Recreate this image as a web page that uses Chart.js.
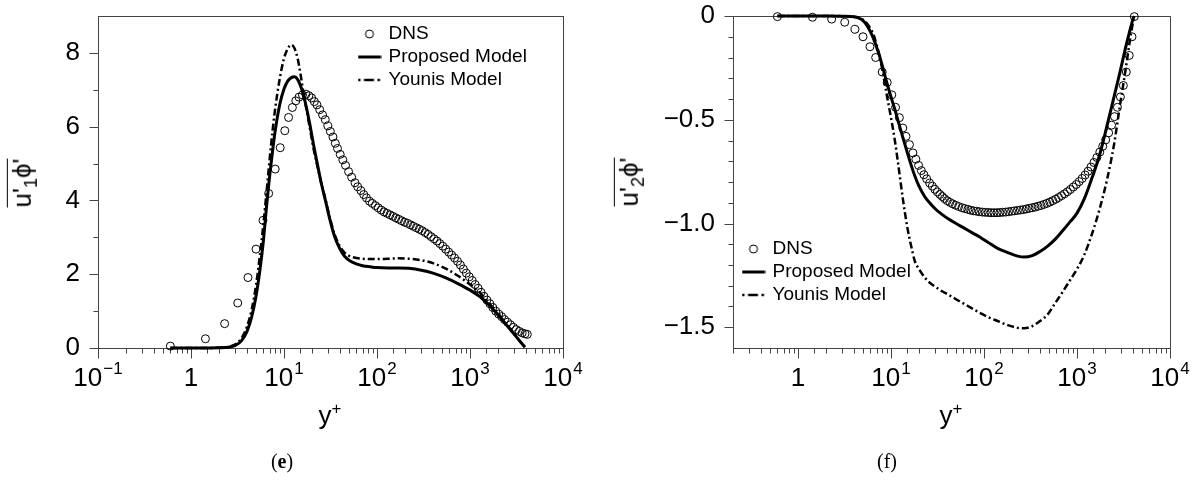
<!DOCTYPE html>
<html>
<head>
<meta charset="UTF-8">
<script src="https://cdn.jsdelivr.net/npm/chart.js"></script>
<style>
    body { margin: 0; background: #fff; width: 1193px; height: 489px; position: relative; overflow: hidden;
           font-family: "Liberation Sans", Arial, sans-serif; }
    canvas { position: absolute; top: 0; }
    #chartE { left: 0; }
    #chartF { left: 600px; }
    .ytitle { position: absolute; font-size: 26px; white-space: nowrap; transform: translate(-50%, -50%) rotate(-90deg); }
    .ytitle span { display: inline-block; border-top: 1.5px solid #000; padding-top: 1px; line-height: 1.05; }
    .ytitle sub { font-size: 0.7em; }
    .xtitle { position: absolute; font-size: 26px; white-space: nowrap; transform: translate(-50%, -50%); }
    .xtitle sup { font-size: 0.65em; }
    .caption { position: absolute; font-family: "Liberation Serif", serif; font-size: 20px; transform: translateX(-50%); }
</style>
</head>
<body>
    <canvas id="chartE" width="600" height="440"></canvas>
    <canvas id="chartF" width="593" height="440"></canvas>
    <div class="ytitle" style="left:24px; top:183px;"><span>u'<sub>1</sub>ϕ'</span></div>
    <div class="ytitle" style="left:631px; top:182px;"><span>u'<sub>2</sub>ϕ'</span></div>
    <div class="xtitle" style="left:330px; top:415px;">y<sup>+</sup></div>
    <div class="xtitle" style="left:951px; top:415px;">y<sup>+</sup></div>
    <div class="caption" style="left:282px; top:450px;">(<b>e</b>)</div>
    <div class="caption" style="left:887px; top:450px;">(f)</div>

<script>
// DNS sample positions (same grid in both panels)
const dnsYplus = [0.6, 1.43, 2.3, 3.18, 4.1, 5.0, 5.94, 6.84, 8.04, 9.1, 10.2, 11.2, 12.3, 13.4, 14.5, 15.8,
    17.2, 18.5, 19.8, 21.2, 22.6, 24.2, 26.0, 27.8, 29.6, 31.5, 33.6, 35.6, 37.6, 40.2, 42.9, 45.9, 49.5, 53.4,
    58, 62, 67, 72, 77, 83, 89, 96, 103, 111, 119, 128, 138, 148, 159, 171, 184, 198, 213, 229, 246, 265, 285,
    306, 329, 354, 381, 410, 441, 474, 510, 548, 590, 634, 682, 734, 789, 849, 913, 982, 1056, 1136, 1222, 1314,
    1413, 1520, 1635, 1758, 1891, 2034, 2188, 2353, 2531, 2722, 2928, 3149, 3387, 3643, 3900, 4130];
const dnsU1Phi = [0.05, 0.25, 0.66, 1.22, 1.91, 2.68, 3.46, 4.19, 4.85, 5.43, 5.89, 6.25, 6.52, 6.70, 6.80, 6.86,
    6.88, 6.84, 6.78, 6.68, 6.59, 6.46, 6.32, 6.19, 6.02, 5.87, 5.72, 5.55, 5.41, 5.25, 5.10, 4.95, 4.78, 4.63,
    4.48, 4.37, 4.27, 4.16, 4.07, 3.98, 3.92, 3.86, 3.80, 3.74, 3.69, 3.65, 3.61, 3.57, 3.53, 3.49, 3.45, 3.41,
    3.38, 3.34, 3.30, 3.26, 3.22, 3.18, 3.13, 3.08, 3.02, 2.96, 2.90, 2.83, 2.76, 2.68, 2.60, 2.52, 2.44, 2.35,
    2.25, 2.14, 2.03, 1.93, 1.83, 1.72, 1.62, 1.51, 1.40, 1.30, 1.20, 1.10, 1.00, 0.92, 0.85, 0.77, 0.70, 0.63,
    0.56, 0.50, 0.45, 0.41, 0.385, 0.37];
const dnsU2Phi = [-0.003, -0.006, -0.015, -0.03, -0.064, -0.10, -0.148, -0.20, -0.27, -0.32, -0.38, -0.44, -0.49,
    -0.54, -0.58, -0.62, -0.66, -0.69, -0.72, -0.745, -0.765, -0.785, -0.805, -0.82, -0.835, -0.848, -0.86, -0.87,
    -0.88, -0.89, -0.898, -0.905, -0.912, -0.918, -0.924, -0.928, -0.932, -0.936, -0.939, -0.941, -0.943, -0.945,
    -0.946, -0.947, -0.948, -0.948, -0.948, -0.947, -0.946, -0.945, -0.943, -0.941, -0.939, -0.937, -0.935, -0.933,
    -0.93, -0.927, -0.924, -0.921, -0.917, -0.913, -0.908, -0.903, -0.897, -0.89, -0.883, -0.875, -0.866, -0.857,
    -0.847, -0.836, -0.824, -0.812, -0.798, -0.783, -0.766, -0.748, -0.728, -0.706, -0.682, -0.656, -0.628, -0.597,
    -0.563, -0.526, -0.485, -0.44, -0.39, -0.335, -0.27, -0.19, -0.1, -0.003];

// panel (e): model curves
const eYplus = [0.6, 1, 1.5, 2, 2.5, 3, 3.5, 4, 4.5, 5, 5.5, 6, 6.5, 7, 7.5, 8, 9, 10, 11, 12, 13, 14, 15, 16,
    17.5, 19, 21, 23, 25, 28, 31, 35, 40, 45, 52, 60, 70, 85, 100, 130, 170, 220, 300, 400, 550, 750, 1000, 1300,
    1600, 2000, 2400, 2900, 3400, 3900];
const eProposed = [0, 0, 0.002, 0.006, 0.02, 0.07, 0.2, 0.45, 0.85, 1.4, 2.1, 2.9, 3.85, 4.65, 5.3, 5.85, 6.6,
    7.02, 7.24, 7.33, 7.35, 7.28, 7.12, 6.9, 6.5, 6.05, 5.45, 4.95, 4.5, 3.98, 3.5, 3.02, 2.68, 2.48, 2.35, 2.28,
    2.23, 2.2, 2.18, 2.17, 2.17, 2.16, 2.11, 2.03, 1.9, 1.74, 1.57, 1.38, 1.17, 0.9, 0.66, 0.41, 0.2, 0.02];
const eYounis = [0, 0, 0.002, 0.008, 0.03, 0.1, 0.27, 0.58, 1.05, 1.7, 2.5, 3.35, 4.25, 5.1, 5.85, 6.45, 7.3,
    7.85, 8.12, 8.22, 8.12, 7.85, 7.45, 7.0, 6.45, 5.95, 5.35, 4.9, 4.5, 4.02, 3.55, 3.08, 2.75, 2.58, 2.48, 2.44,
    2.42, 2.41, 2.41, 2.42, 2.43, 2.42, 2.38, 2.3, 2.15, 1.95, 1.72, 1.48, 1.22, 0.94, 0.68, 0.42, 0.2, 0.02];

// panel (f): model curves
const fYplus = [0.6, 1, 2, 3, 4, 4.5, 5, 5.5, 6, 6.5, 7, 7.5, 8, 9, 10, 11, 12, 13.5, 15, 16.5, 18, 20, 23, 26,
    30, 35, 42, 50, 60, 75, 90, 110, 140, 180, 230, 270, 330, 400, 480, 570, 700, 850, 1000, 1200, 1450, 1750,
    2100, 2500, 2900, 3300, 3700, 4000, 4130];
const fProposed = [0, 0, 0, -0.001, -0.004, -0.01, -0.022, -0.045, -0.075, -0.11, -0.15, -0.19, -0.235, -0.32,
    -0.39, -0.45, -0.51, -0.59, -0.66, -0.72, -0.77, -0.82, -0.87, -0.9, -0.93, -0.955, -0.98, -1.0, -1.02, -1.045,
    -1.065, -1.09, -1.12, -1.14, -1.157, -1.162, -1.155, -1.135, -1.11, -1.08, -1.035, -0.99, -0.95, -0.88, -0.78,
    -0.67, -0.53, -0.39, -0.27, -0.16, -0.07, -0.015, 0];
const fYounis = [0, 0, 0, -0.001, -0.004, -0.008, -0.018, -0.035, -0.06, -0.09, -0.14, -0.19, -0.25, -0.38, -0.49,
    -0.6, -0.72, -0.89, -1.02, -1.11, -1.18, -1.22, -1.26, -1.285, -1.305, -1.325, -1.345, -1.365, -1.385, -1.41,
    -1.43, -1.45, -1.47, -1.49, -1.503, -1.505, -1.495, -1.47, -1.44, -1.39, -1.33, -1.27, -1.22, -1.15, -1.05,
    -0.93, -0.79, -0.62, -0.43, -0.27, -0.12, -0.03, 0];

// tick labels (x labels are base + superscript exponent)
const xTickValues = [0.1, 1, 10, 100, 1000, 10000];
const xTickBase = ['10', '1', '10', '10', '10', '10'];
const xTickExp = ['−1', '', '1', '2', '3', '4'];
const eTickValues = [0, 2, 4, 6, 8];
const eTickText = ['0', '2', '4', '6', '8'];
const fTickValues = [0, -0.5, -1.0, -1.5];
const fTickText = ['0', '−0.5', '−1.0', '−1.5'];

const FONT = '"Liberation Sans", Arial, sans-serif';
Chart.defaults.font.family = FONT;
Chart.defaults.color = '#000';

function findTick(vals, v) {
    return vals.findIndex(t => Math.abs(t - v) < 1e-6 * Math.max(1, Math.abs(t)));
}
function lookup(vals, texts, v) {
    const i = findTick(vals, v);
    return i >= 0 ? texts[i] : '';
}
function pts(xs, ys) { return xs.map((x, i) => ({ x: x, y: ys[i] })); }

function icon(draw) {
    const c = document.createElement('canvas');
    c.width = 24; c.height = 10;
    const g = c.getContext('2d');
    g.strokeStyle = '#000';
    draw(g);
    return c;
}
const circleIcon = icon(g => { g.lineWidth = 1; g.beginPath(); g.arc(12, 5, 4, 0, Math.PI * 2); g.stroke(); });
const solidIcon = icon(g => { g.lineWidth = 3; g.beginPath(); g.moveTo(0.5, 5); g.lineTo(23.5, 5); g.stroke(); });
const dashIcon = icon(g => {
    g.lineWidth = 2.5; g.setLineDash([2.5, 3.5, 10, 3.5, 2.5, 10]);
    g.beginPath(); g.moveTo(0.5, 5); g.lineTo(23.5, 5); g.stroke();
});
const legendIcons = [circleIcon, solidIcon, dashIcon];

// put the legend box at a fixed spot inside the plot
const legendPos = {
    id: 'legendPos',
    beforeDraw(chart, args, o) {
        const lg = chart.legend;
        if (!lg) return;
        lg.left = o.left; lg.top = o.top;
        lg.right = o.left + lg.width; lg.bottom = o.top + 200;
    }
};

// frame round the plot, outward tick marks and the 10^n labels
const frameTicks = {
    id: 'frameTicks',
    beforeDatasetsDraw(chart) {
        const { ctx, chartArea: a, scales: { x, y } } = chart;
        ctx.save();
        ctx.strokeStyle = '#444';
        ctx.lineWidth = 1;
        const L = Math.round(a.left) + 0.5, R = Math.round(a.right) + 0.5;
        const T = Math.round(a.top) + 0.5, B = Math.round(a.bottom) + 0.5;
        ctx.strokeRect(L, T, R - L, B - T);
        ctx.beginPath();
        x.ticks.forEach(t => {
            const px = Math.round(x.getPixelForValue(t.value)) + 0.5;
            const len = findTick(xTickValues, t.value) >= 0 ? 10 : 5;
            ctx.moveTo(px, B); ctx.lineTo(px, B + len);
        });
        y.ticks.forEach(t => {
            if (!t.label && (t.value === y.min || t.value === y.max)) return;
            const py = Math.round(y.getPixelForValue(t.value)) + 0.5;
            const len = t.label ? 9 : 5;
            ctx.moveTo(L - len, py); ctx.lineTo(L, py);
        });
        ctx.stroke();
        ctx.restore();
    },
    afterDraw(chart) {
        const { ctx, chartArea: a, scales: { x } } = chart;
        const base = a.bottom + 38;
        ctx.save();
        ctx.fillStyle = '#000';
        ctx.textAlign = 'left';
        ctx.textBaseline = 'alphabetic';
        xTickValues.forEach((v, i) => {
            if (v < x.min || v > x.max) return;
            const px = x.getPixelForValue(v);
            ctx.font = '26px ' + FONT;
            const wb = ctx.measureText(xTickBase[i]).width;
            ctx.font = '17px ' + FONT;
            const we = xTickExp[i] ? ctx.measureText(xTickExp[i]).width + 1 : 0;
            const x0 = px - (wb + we) / 2;
            ctx.font = '26px ' + FONT;
            ctx.fillText(xTickBase[i], x0, base);
            if (xTickExp[i]) {
                ctx.font = '17px ' + FONT;
                ctx.fillText(xTickExp[i], x0 + wb + 1, base - 12);
            }
        });
        ctx.restore();
    }
};

function panel(id, cfg) {
    return new Chart(document.getElementById(id), {
        type: 'line',
        data: {
            datasets: [
                { label: 'DNS', data: pts(dnsYplus, cfg.dns), showLine: false, pointStyle: 'circle',
                  pointRadius: 4, pointBorderWidth: 1, pointBorderColor: '#000',
                  pointBackgroundColor: 'rgba(0,0,0,0)', clip: false },
                { label: 'Proposed Model', data: pts(cfg.modelX, cfg.proposed), borderColor: '#000',
                  borderWidth: 3, pointRadius: 0, cubicInterpolationMode: 'monotone', clip: false },
                { label: 'Younis Model', data: pts(cfg.modelX, cfg.younis), borderColor: '#000',
                  borderWidth: 2.5, borderDash: [7, 3, 2, 3], pointRadius: 0,
                  cubicInterpolationMode: 'monotone', clip: false }
            ]
        },
        options: {
            responsive: false,
            animation: false,
            events: [],
            layout: { padding: { top: 16, right: cfg.padRight, left: 0, bottom: 0 } },
            plugins: {
                tooltip: { enabled: false },
                legend: {
                    position: 'chartArea',
                    align: 'start',
                    labels: {
                        usePointStyle: true,
                        font: { size: 19 },
                        padding: 4,
                        color: '#000',
                        generateLabels: chart => chart.data.datasets.map((d, i) => ({
                            text: d.label, pointStyle: legendIcons[i], datasetIndex: i,
                            lineWidth: 0, hidden: false, fontColor: '#000'
                        }))
                    }
                },
                legendPos: cfg.legend
            },
            scales: {
                x: {
                    type: 'logarithmic',
                    min: cfg.xMin,
                    max: 10000,
                    grid: { display: false, drawTicks: false },
                    border: { display: false },
                    ticks: { display: false, autoSkip: false },
                    afterFit: s => { s.height = 92; s.paddingLeft = 0; s.paddingRight = 0; }
                },
                y: {
                    type: 'linear',
                    min: cfg.yMin,
                    max: cfg.yMax,
                    grid: { display: false, drawTicks: false },
                    border: { display: false },
                    ticks: {
                        autoSkip: false, stepSize: cfg.yStep, padding: 18, font: { size: 26 },
                        callback: v => lookup(cfg.yTickValues, cfg.yTickText, v)
                    },
                    afterFit: s => { s.width = cfg.yWidth; s.paddingTop = 0; s.paddingBottom = 0; }
                }
            }
        },
        plugins: [legendPos, frameTicks]
    });
}

panel('chartE', {
    dns: dnsU1Phi, modelX: eYplus, proposed: eProposed, younis: eYounis,
    xMin: 0.1, yMin: 0, yMax: 9, yStep: 1, yWidth: 98, padRight: 37,
    yTickValues: eTickValues, yTickText: eTickText,
    legend: { left: 356, top: 20.5 }
});
panel('chartF', {
    dns: dnsU2Phi, modelX: fYplus, proposed: fProposed, younis: fYounis,
    xMin: 0.2, yMin: -1.6, yMax: 0, yStep: 0.1, yWidth: 133, padRight: 23,
    yTickValues: fTickValues, yTickText: fTickText,
    legend: { left: 140, top: 235.5 }
});
</script>
</body>
</html>
